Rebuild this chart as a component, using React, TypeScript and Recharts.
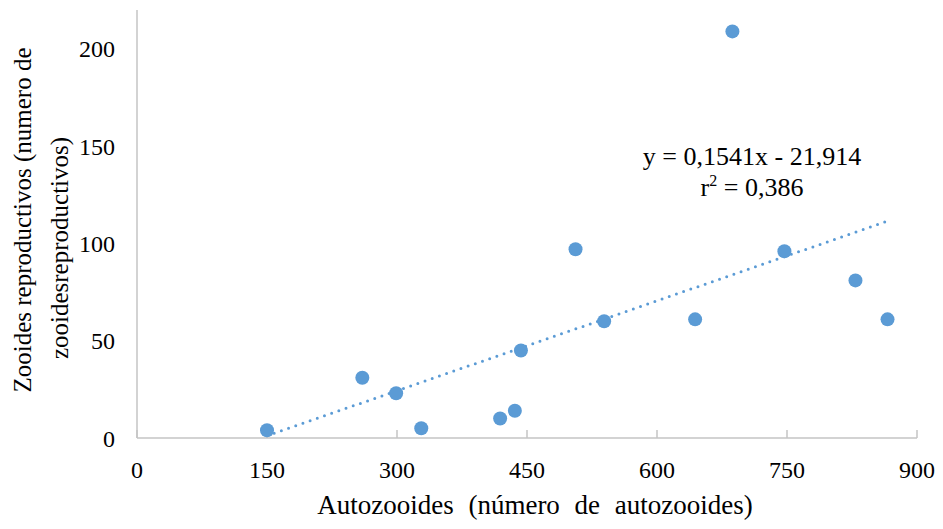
import {
  Customized,
  ReferenceLine,
  Scatter,
  ScatterChart,
  XAxis,
  YAxis,
} from 'recharts';

// colonies: autozooids (x) vs reproductive zooids (y)
const autozooides = [150, 260, 299, 328, 419, 436, 443, 506, 539, 644, 687, 747, 829, 866];
const reproductivos = [4, 31, 23, 5, 10, 14, 45, 97, 60, 61, 209, 96, 81, 61];

const xTicks = [0, 150, 300, 450, 600, 750, 900];
const yTicks = [0, 50, 100, 150, 200];

// linear trend as drawn in the figure (endpoints)
const trendStart = { x: 150, y: 1.2 };
const trendEnd = { x: 866, y: 111.5 };

const equationText = 'y = 0,1541x - 21,914';
const r2Value = '= 0,386';

const yTitle = ['Zooides reproductivos (numero de', 'zooidesreproductivos)'];
const xTitle = 'Autozooides (número de autozooides)';

const BLUE = '#5b9bd5';
const AXIS = '#c4c4c4';
const FONT = "'Liberation Serif', 'Times New Roman', serif";

const W = 943;
const H = 529;

const points = autozooides.map((x, i) => ({ x, y: reproductivos[i] }));

function Annotations() {
  return (
    <g style={{ fontFamily: FONT }} fill="#000">
      <text x={752} y={165} fontSize={26} textAnchor="middle">
        {equationText}
      </text>
      <text x={752} y={196} fontSize={26} textAnchor="middle">
        <tspan>r</tspan>
        <tspan fontSize={16} dy={-10}>2</tspan>
        <tspan dy={10}> {r2Value}</tspan>
      </text>
      <text
        x={0}
        y={0}
        fontSize={25}
        textAnchor="middle"
        transform={`translate(31, 220) rotate(-90)`}
      >
        {yTitle[0]}
      </text>
      <text
        x={0}
        y={0}
        fontSize={25}
        textAnchor="middle"
        transform={`translate(68, 248) rotate(-90)`}
      >
        {yTitle[1]}
      </text>
      <text x={535} y={514} fontSize={27} wordSpacing={8} textAnchor="middle">
        {xTitle}
      </text>
    </g>
  );
}

export default function App() {
  return (
    <div
      style={{
        position: 'absolute',
        left: 0,
        top: 0,
        width: W,
        height: H,
        background: '#fff',
        fontFamily: FONT,
      }}
    >
      <ScatterChart
        width={W}
        height={H}
        margin={{ top: 10, right: 26, bottom: 0, left: 0 }}
        style={{ fontFamily: FONT }}
      >
        <XAxis
          type="number"
          dataKey="x"
          domain={[0, 900]}
          ticks={xTicks}
          interval={0}
          height={91}
          axisLine={{ stroke: AXIS, strokeWidth: 1.5 }}
          tickLine={{ stroke: AXIS, strokeWidth: 1.5 }}
          tickSize={-8}
          tickMargin={31}
          tick={{ fontSize: 24, fill: '#000', style: { fontFamily: FONT } }}
        />
        <YAxis
          type="number"
          dataKey="y"
          domain={[0, 220]}
          ticks={yTicks}
          interval={0}
          width={137}
          axisLine={{ stroke: AXIS, strokeWidth: 1.5 }}
          tickLine={false}
          tickSize={0}
          tickMargin={22}
          tick={{ fontSize: 24, fill: '#000', style: { fontFamily: FONT } }}
        />
        <ReferenceLine
          segment={[trendStart, trendEnd]}
          stroke={BLUE}
          strokeWidth={3}
          strokeDasharray="0 7.6"
          strokeLinecap="round"
        />
        <Scatter
          data={points}
          fill={BLUE}
          isAnimationActive={false}
          shape={(p: any) => <circle cx={p.cx} cy={p.cy} r={7} fill={BLUE} />}
        />
        <Customized component={Annotations} />
      </ScatterChart>
    </div>
  );
}
